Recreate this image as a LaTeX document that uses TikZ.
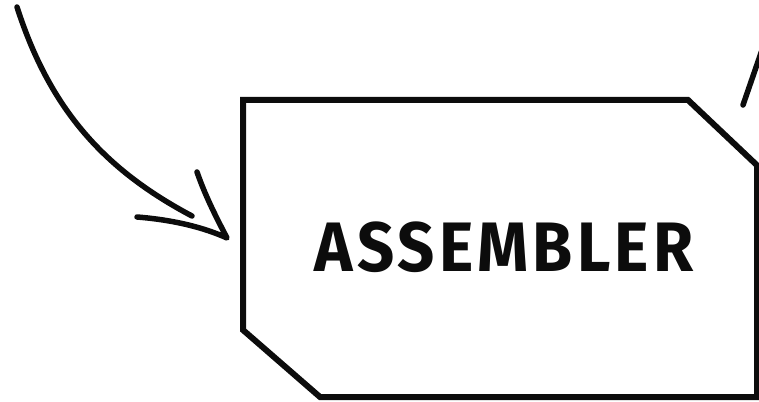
\documentclass[tikz,border=0pt]{standalone}
\usepackage{fontspec}
\setsansfont{Fira Sans}
\newfontfamily\handfont[LetterSpace=6,FakeStretch=0.93]{Fira Sans}
\usepackage{xcolor}
\usetikzlibrary{calc,positioning}
\definecolor{ink}{RGB}{12,12,12}
\tikzset{
  outline/.style={line width=6pt,draw=ink,line join=miter},
  stroke/.style={line width=5.5pt,draw=ink,line cap=round,line join=round},
  label/.style={font=\handfont\bfseries\fontsize{70}{70}\selectfont,text=ink,inner sep=0pt}
}
\begin{document}
\begin{tikzpicture}[x=1pt,y=-1pt]
  \useasboundingbox (0,0) rectangle (759,401);
  % assembler block, corners clipped
  \draw[outline] (243,100) -- (688,100) -- (762,170) -- (757,170) -- (757,397) -- (320,397) -- (243,330) -- cycle;
  \node[label] (asm) at (504,247) {ASSEMBLER};
  % incoming arrow
  \coordinate (src) at (17,7);
  \coordinate (tip) at (227,238);
  \draw[stroke] (src) .. controls (50,110) and (105,170) .. (192,216);
  \draw[stroke] (137,217) .. controls (175,220) and (205,228) .. (tip) .. controls (215,215) and (205,195) .. (197,172);
  % outgoing stroke
  \coordinate (out) at (762,50);
  \draw[stroke] (743,105) -- (out);
\end{tikzpicture}
\end{document}
